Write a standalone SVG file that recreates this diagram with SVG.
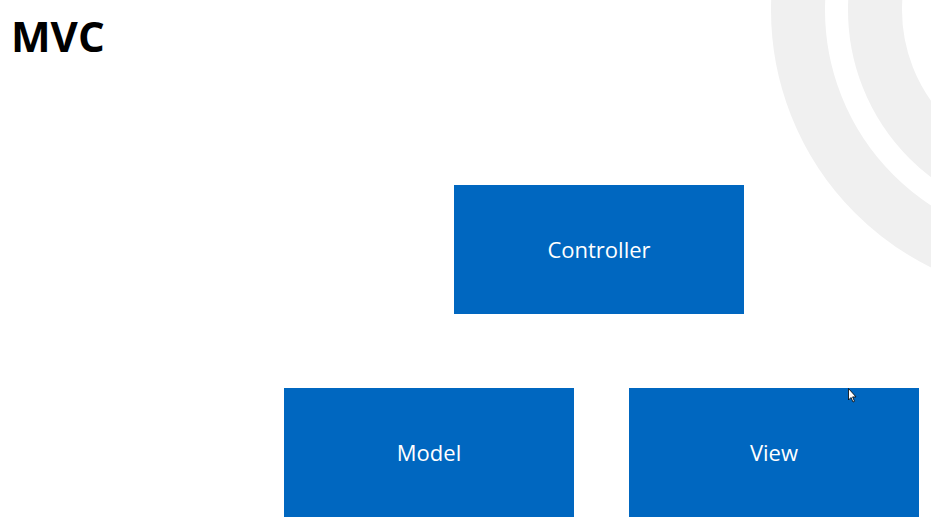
<svg xmlns="http://www.w3.org/2000/svg" width="931" height="532" viewBox="0 0 931 532">
<style>
.ring{fill:none;stroke:#f0f0f0;stroke-width:54}
.box{fill:#0067c0}
.lbl{font-family:"Open Sans","Noto Sans","Liberation Sans",sans-serif;font-size:22px;fill:#ffffff;text-anchor:middle}
.title{font-family:"Open Sans","Noto Sans","Liberation Sans",sans-serif;font-size:42px;font-weight:bold;fill:#000000}
</style>
<rect width="931" height="532" fill="#ffffff"/>
<g id="decor">
<circle class="ring" cx="1058" cy="10" r="260"/>
<circle class="ring" cx="1058" cy="10" r="183"/>
</g>
<text class="title" x="11" y="52">MVC</text>
<g id="connectors"></g>
<g id="controller">
<rect class="box" x="454" y="185" width="290" height="129"/>
<text class="lbl" x="599" y="258">Controller</text>
</g>
<g id="model">
<rect class="box" x="284" y="388" width="290" height="129"/>
<text class="lbl" x="429" y="461">Model</text>
</g>
<g id="view">
<rect class="box" x="629" y="388" width="290" height="129"/>
<text class="lbl" x="774" y="461">View</text>
</g>
<g id="cursor">
<path d="M848.5,388.5 L848.5,400 L851,397.5 L853,402 L854.5,401.3 L852.6,396.9 L856,396.9 Z" fill="#ffffff" stroke="#000000" stroke-width="0.8"/>
</g>
</svg>
